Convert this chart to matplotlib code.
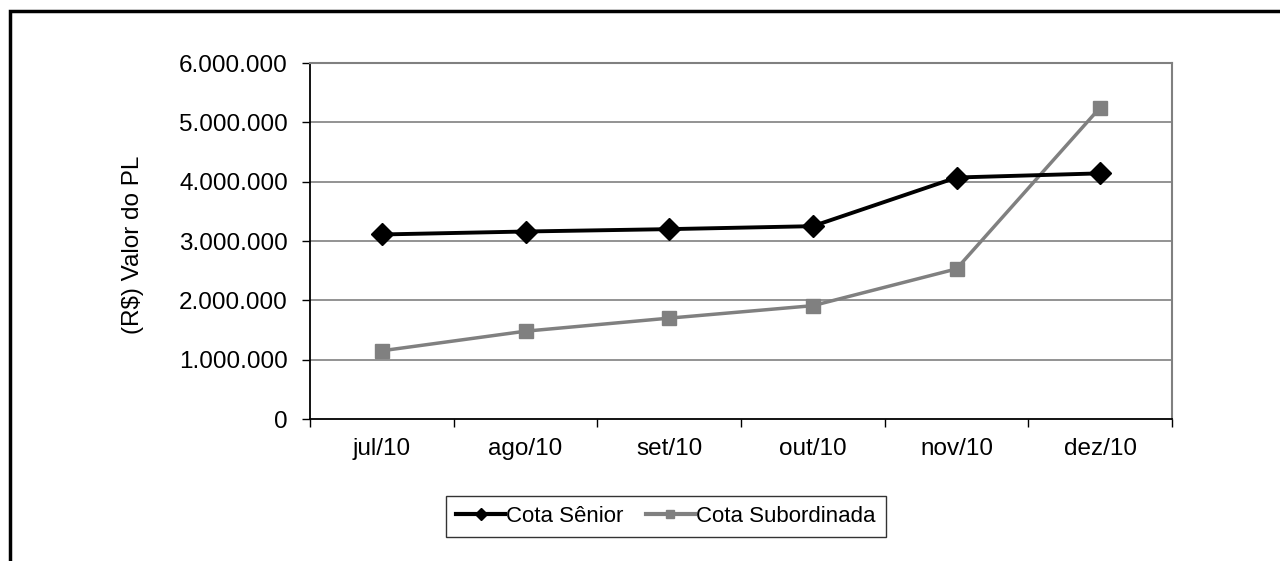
import matplotlib.pyplot as plt
from matplotlib.patches import Rectangle
from matplotlib.ticker import FixedLocator, FuncFormatter

plt.rcParams['font.family'] = ['Liberation Sans', 'DejaVu Sans']

meses = ['jul/10', 'ago/10', 'set/10', 'out/10', 'nov/10', 'dez/10']
cota_senior = [3110000, 3160000, 3200000, 3250000, 4070000, 4140000]
cota_subordinada = [1150000, 1480000, 1700000, 1910000, 2530000, 5250000]
y_ticks = [0, 1000000, 2000000, 3000000, 4000000, 5000000, 6000000]


def fmt_milhar(v, pos=None):
    return f"{int(v):,}".replace(',', '.')


fig = plt.figure(figsize=(12.8, 5.61), dpi=100)
ax = fig.add_axes([310 / 1280, 1 - 419 / 561, 862 / 1280, 356 / 561])

x = list(range(len(meses)))
ax.plot(x, cota_senior, color='black', lw=2.8, marker='D', ms=11,
        label='Cota Sênior', zorder=4)
ax.plot(x, cota_subordinada, color='#808080', lw=2.5, marker='s', ms=10,
        label='Cota Subordinada', zorder=3)

ax.set_xlim(-0.5, len(meses) - 0.5)
ax.set_ylim(0, 6000000)
ax.set_yticks(y_ticks)
ax.yaxis.set_major_formatter(FuncFormatter(fmt_milhar))
for v in y_ticks[1:]:
    ax.axhline(v, color='#808080', lw=1.2, zorder=1)

# ticks nos limites das categorias, rótulos no centro
ax.xaxis.set_major_locator(FixedLocator([i - 0.5 for i in range(len(meses) + 1)]))
ax.xaxis.set_major_formatter(FuncFormatter(lambda v, p: ''))
ax.xaxis.set_minor_locator(FixedLocator(x))
ax.set_xticklabels(meses, minor=True)
ax.tick_params(axis='x', which='major', length=6, width=1, direction='out')
ax.tick_params(axis='x', which='minor', length=0, pad=14, labelsize=17.5)
ax.tick_params(axis='y', length=6, width=1, direction='out', pad=10, labelsize=17.5)

ax.spines['left'].set_color('black')
ax.spines['bottom'].set_color('black')
ax.spines['left'].set_linewidth(1.3)
ax.spines['bottom'].set_linewidth(1.3)
ax.spines['right'].set_color('#808080')
ax.spines['top'].set_color('#808080')
ax.spines['right'].set_linewidth(1.5)
ax.spines['top'].set_linewidth(1.5)

ax.set_ylabel('(R$) Valor do PL', fontsize=17.5)
ax.yaxis.set_label_coords(-0.193, 0.489)

leg = fig.legend(loc='center', bbox_to_anchor=(666 / 1280, 1 - 516.5 / 561),
                 ncol=2, fontsize=16, frameon=True, fancybox=False,
                 handlelength=2.2, handletextpad=0.05, columnspacing=1.0,
                 borderpad=0.45, markerscale=0.55)
leg.get_frame().set_edgecolor('black')
leg.get_frame().set_linewidth(1.0)
for h in leg.legend_handles:
    h.set_linewidth(3)

# moldura externa
fig.patches.append(Rectangle((9.5 / 1280, -0.1), 1.2, 1.1 - 11.5 / 561 + 0.001,
                             transform=fig.transFigure, fill=False,
                             edgecolor='black', lw=2.5))

fig.savefig('out.png', dpi=100)
